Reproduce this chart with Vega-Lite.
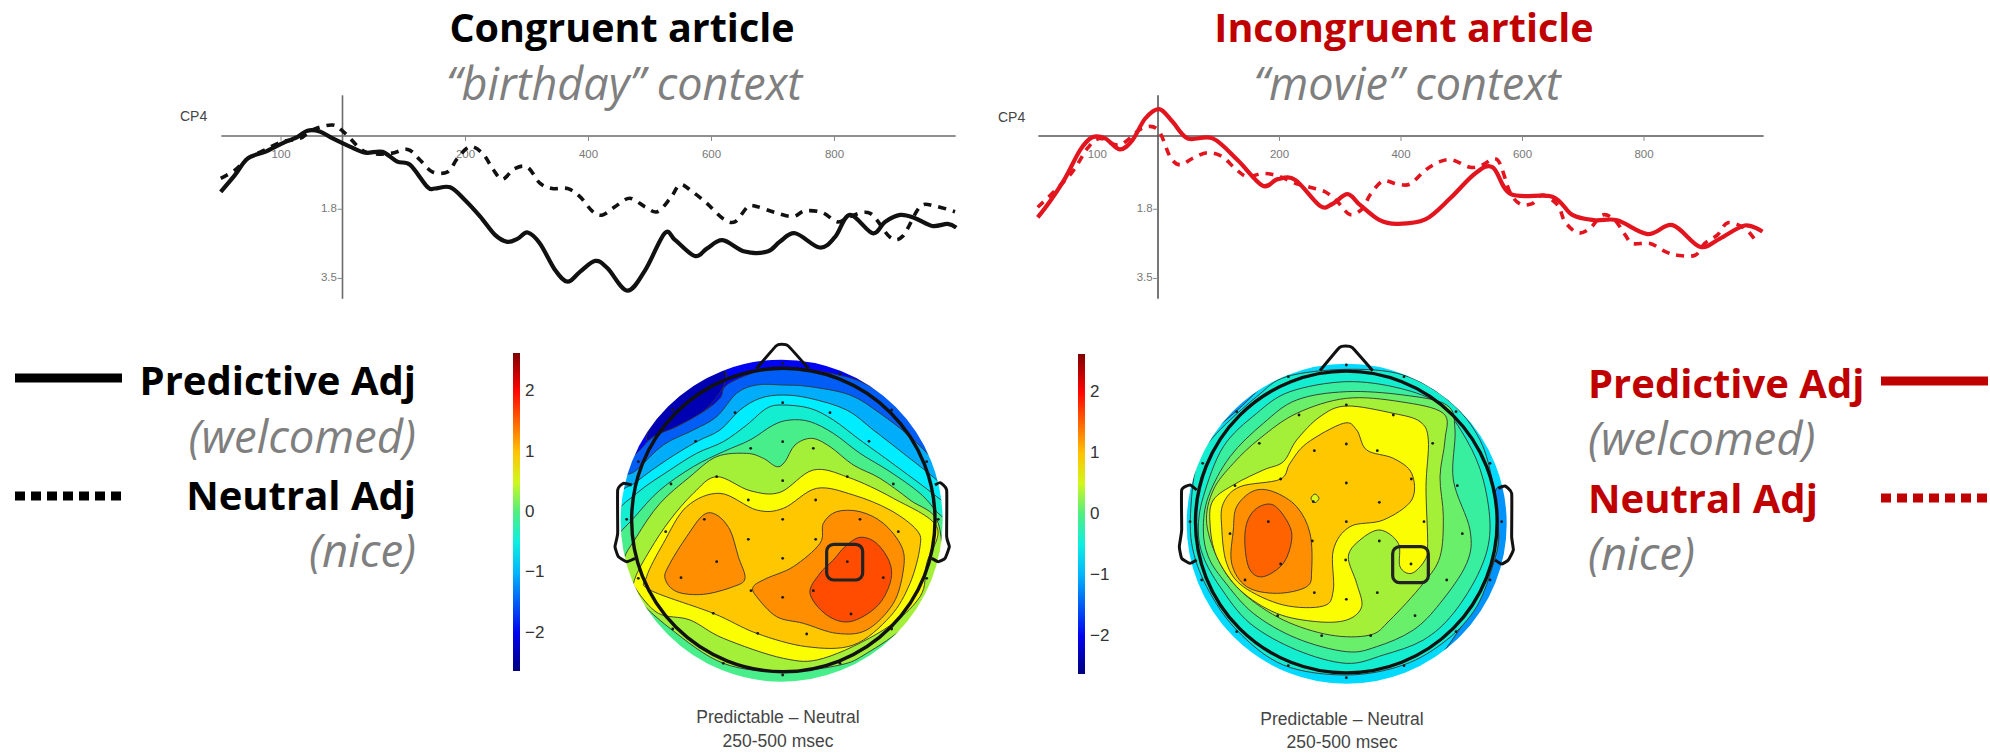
{"$schema":"https://vega.github.io/schema/vega-lite/v6.json","width":1990,"height":754,"autosize":{"type":"fit","contains":"padding"},"padding":0,"background":"white","config":{"view":{"stroke":null}},
"datasets":{
"erpL":[
{"s":"P","t":-198,"v":1.37},{"s":"P","t":-175,"v":0.96},{"s":"P","t":-154,"v":0.55},{"s":"P","t":-126,"v":0.39},{"s":"P","t":-98,"v":0.18},{"s":"P","t":-73,"v":0.02},{"s":"P","t":-57,"v":-0.13},{"s":"P","t":-37,"v":-0.11},{"s":"P","t":-16,"v":0.06},{"s":"P","t":12,"v":0.26},{"s":"P","t":37,"v":0.41},{"s":"P","t":65,"v":0.39},{"s":"P","t":89,"v":0.63},{"s":"P","t":110,"v":0.71},{"s":"P","t":138,"v":1.25},{"s":"P","t":150,"v":1.29},{"s":"P","t":175,"v":1.26},{"s":"P","t":199,"v":1.57},{"s":"P","t":224,"v":1.98},{"s":"P","t":248,"v":2.43},{"s":"P","t":268,"v":2.6},{"s":"P","t":285,"v":2.52},{"s":"P","t":301,"v":2.37},{"s":"P","t":321,"v":2.64},{"s":"P","t":346,"v":3.3},{"s":"P","t":366,"v":3.58},{"s":"P","t":386,"v":3.34},{"s":"P","t":411,"v":3.07},{"s":"P","t":431,"v":3.25},{"s":"P","t":463,"v":3.8},{"s":"P","t":492,"v":3.3},{"s":"P","t":524,"v":2.39},{"s":"P","t":541,"v":2.56},{"s":"P","t":573,"v":2.95},{"s":"P","t":593,"v":2.76},{"s":"P","t":618,"v":2.56},{"s":"P","t":654,"v":2.84},{"s":"P","t":691,"v":2.84},{"s":"P","t":711,"v":2.6},{"s":"P","t":736,"v":2.39},{"s":"P","t":776,"v":2.74},{"s":"P","t":801,"v":2.48},{"s":"P","t":825,"v":1.94},{"s":"P","t":862,"v":2.39},{"s":"P","t":882,"v":2.11},{"s":"P","t":907,"v":1.94},{"s":"P","t":931,"v":2.02},{"s":"P","t":959,"v":2.21},{"s":"P","t":984,"v":2.16},{"s":"P","t":998,"v":2.25},
{"s":"N","t":-198,"v":1.04},{"s":"N","t":-175,"v":0.84},{"s":"N","t":-154,"v":0.55},{"s":"N","t":-126,"v":0.34},{"s":"N","t":-98,"v":0.14},{"s":"N","t":-69,"v":0.06},{"s":"N","t":-49,"v":-0.15},{"s":"N","t":-16,"v":-0.27},{"s":"N","t":4,"v":-0.07},{"s":"N","t":37,"v":0.39},{"s":"N","t":77,"v":0.43},{"s":"N","t":106,"v":0.33},{"s":"N","t":126,"v":0.59},{"s":"N","t":146,"v":0.88},{"s":"N","t":171,"v":0.88},{"s":"N","t":187,"v":0.55},{"s":"N","t":207,"v":0.26},{"s":"N","t":228,"v":0.43},{"s":"N","t":244,"v":0.8},{"s":"N","t":260,"v":1.06},{"s":"N","t":280,"v":0.8},{"s":"N","t":301,"v":0.77},{"s":"N","t":321,"v":1.16},{"s":"N","t":341,"v":1.29},{"s":"N","t":366,"v":1.29},{"s":"N","t":386,"v":1.49},{"s":"N","t":407,"v":1.86},{"s":"N","t":423,"v":1.94},{"s":"N","t":443,"v":1.74},{"s":"N","t":467,"v":1.53},{"s":"N","t":492,"v":1.74},{"s":"N","t":512,"v":1.86},{"s":"N","t":533,"v":1.53},{"s":"N","t":549,"v":1.2},{"s":"N","t":569,"v":1.37},{"s":"N","t":593,"v":1.66},{"s":"N","t":618,"v":2.02},{"s":"N","t":638,"v":2.11},{"s":"N","t":659,"v":1.74},{"s":"N","t":675,"v":1.74},{"s":"N","t":703,"v":1.88},{"s":"N","t":732,"v":1.98},{"s":"N","t":752,"v":1.84},{"s":"N","t":780,"v":1.88},{"s":"N","t":805,"v":2.11},{"s":"N","t":825,"v":1.98},{"s":"N","t":858,"v":1.9},{"s":"N","t":890,"v":2.48},{"s":"N","t":911,"v":2.46},{"s":"N","t":939,"v":1.74},{"s":"N","t":963,"v":1.72},{"s":"N","t":996,"v":1.86}],
"erpR":[
{"s":"P","t":-198,"v":2.0},{"s":"P","t":-178,"v":1.61},{"s":"P","t":-153,"v":1.04},{"s":"P","t":-128,"v":0.34},{"s":"P","t":-108,"v":0.03},{"s":"P","t":-87,"v":0.06},{"s":"P","t":-63,"v":0.33},{"s":"P","t":-42,"v":0.1},{"s":"P","t":-21,"v":-0.43},{"s":"P","t":2,"v":-0.66},{"s":"P","t":24,"v":-0.35},{"s":"P","t":49,"v":0.06},{"s":"P","t":90,"v":0.06},{"s":"P","t":131,"v":0.59},{"s":"P","t":172,"v":1.22},{"s":"P","t":197,"v":1.06},{"s":"P","t":226,"v":1.08},{"s":"P","t":267,"v":1.72},{"s":"P","t":287,"v":1.67},{"s":"P","t":312,"v":1.43},{"s":"P","t":333,"v":1.7},{"s":"P","t":365,"v":2.07},{"s":"P","t":394,"v":2.16},{"s":"P","t":440,"v":2.05},{"s":"P","t":481,"v":1.53},{"s":"P","t":522,"v":0.92},{"s":"P","t":551,"v":0.77},{"s":"P","t":581,"v":1.43},{"s":"P","t":649,"v":1.49},{"s":"P","t":682,"v":1.94},{"s":"P","t":719,"v":2.07},{"s":"P","t":756,"v":2.07},{"s":"P","t":806,"v":2.41},{"s":"P","t":847,"v":2.19},{"s":"P","t":892,"v":2.72},{"s":"P","t":925,"v":2.52},{"s":"P","t":966,"v":2.2},{"s":"P","t":995,"v":2.35},
{"s":"N","t":-198,"v":1.75},{"s":"N","t":-145,"v":0.96},{"s":"N","t":-116,"v":0.3},{"s":"N","t":-95,"v":0.06},{"s":"N","t":-63,"v":0.22},{"s":"N","t":-26,"v":-0.19},{"s":"N","t":0,"v":-0.15},{"s":"N","t":20,"v":0.51},{"s":"N","t":36,"v":0.71},{"s":"N","t":57,"v":0.55},{"s":"N","t":81,"v":0.41},{"s":"N","t":106,"v":0.51},{"s":"N","t":127,"v":0.8},{"s":"N","t":147,"v":1.0},{"s":"N","t":172,"v":0.92},{"s":"N","t":197,"v":0.98},{"s":"N","t":226,"v":1.16},{"s":"N","t":250,"v":1.26},{"s":"N","t":275,"v":1.37},{"s":"N","t":295,"v":1.61},{"s":"N","t":316,"v":1.93},{"s":"N","t":337,"v":1.78},{"s":"N","t":349,"v":1.45},{"s":"N","t":370,"v":1.11},{"s":"N","t":394,"v":1.18},{"s":"N","t":415,"v":1.18},{"s":"N","t":440,"v":0.84},{"s":"N","t":464,"v":0.63},{"s":"N","t":485,"v":0.59},{"s":"N","t":514,"v":0.77},{"s":"N","t":534,"v":0.71},{"s":"N","t":559,"v":0.59},{"s":"N","t":579,"v":1.37},{"s":"N","t":596,"v":1.67},{"s":"N","t":616,"v":1.66},{"s":"N","t":633,"v":1.45},{"s":"N","t":658,"v":1.7},{"s":"N","t":670,"v":2.11},{"s":"N","t":691,"v":2.38},{"s":"N","t":711,"v":2.27},{"s":"N","t":732,"v":1.94},{"s":"N","t":752,"v":2.07},{"s":"N","t":769,"v":2.43},{"s":"N","t":781,"v":2.64},{"s":"N","t":810,"v":2.64},{"s":"N","t":835,"v":2.84},{"s":"N","t":855,"v":2.93},{"s":"N","t":884,"v":2.93},{"s":"N","t":900,"v":2.64},{"s":"N","t":921,"v":2.43},{"s":"N","t":938,"v":2.13},{"s":"N","t":966,"v":2.27},{"s":"N","t":983,"v":2.56}],
"ticks":[{"t":-100,"v":0.47,"label":"100"},{"t":200,"v":0.47,"label":"200"},{"t":400,"v":0.47,"label":"400"},{"t":600,"v":0.47,"label":"600"},{"t":800,"v":0.47,"label":"800"},{"t":-22,"v":1.8,"label":"1.8"},{"t":-22,"v":3.5,"label":"3.5"}],
"tickMarks":[{"t":-100,"v":0,"t2":-100,"v2":0.12},{"t":200,"v":0,"t2":200,"v2":0.12},{"t":400,"v":0,"t2":400,"v2":0.12},{"t":600,"v":0,"t2":600,"v2":0.12},{"t":800,"v":0,"t2":800,"v2":0.12},{"t":-8,"v":1.8,"t2":0,"v2":1.8},{"t":-8,"v":3.5,"t2":0,"v2":3.5}],
"contL":[
{"id":"a","v":-2.0,"x":875,"y":42},{"id":"a","v":-2.0,"x":1250,"y":197},{"id":"a","v":-2.0,"x":1405,"y":572},{"id":"a","v":-2.0,"x":1250,"y":947},{"id":"a","v":-2.0,"x":875,"y":1102},{"id":"a","v":-2.0,"x":500,"y":947},{"id":"a","v":-2.0,"x":345,"y":572},{"id":"a","v":-2.0,"x":500,"y":197},
{"id":"b","v":-2.35,"x":470,"y":330},{"id":"b","v":-2.35,"x":510,"y":245},{"id":"b","v":-2.35,"x":610,"y":150},{"id":"b","v":-2.35,"x":700,"y":120},{"id":"b","v":-2.35,"x":700,"y":170},{"id":"b","v":-2.35,"x":640,"y":245},{"id":"b","v":-2.35,"x":560,"y":290},
{"id":"c","v":-1.5,"x":380,"y":420},{"id":"c","v":-1.5,"x":440,"y":370},{"id":"c","v":-1.5,"x":490,"y":320},{"id":"c","v":-1.5,"x":560,"y":290},{"id":"c","v":-1.5,"x":640,"y":245},{"id":"c","v":-1.5,"x":690,"y":205},{"id":"c","v":-1.5,"x":710,"y":165},{"id":"c","v":-1.5,"x":800,"y":125},{"id":"c","v":-1.5,"x":878,"y":115},{"id":"c","v":-1.5,"x":960,"y":120},{"id":"c","v":-1.5,"x":1100,"y":150},{"id":"c","v":-1.5,"x":1200,"y":210},{"id":"c","v":-1.5,"x":1280,"y":290},{"id":"c","v":-1.5,"x":1340,"y":360},{"id":"c","v":-1.5,"x":1400,"y":420},{"id":"c","v":-1.5,"x":1400,"y":760},{"id":"c","v":-1.5,"x":1257,"y":954},{"id":"c","v":-1.5,"x":875,"y":1112},{"id":"c","v":-1.5,"x":493,"y":954},{"id":"c","v":-1.5,"x":350,"y":760},
{"id":"d","v":-1.05,"x":370,"y":480},{"id":"d","v":-1.05,"x":440,"y":420},{"id":"d","v":-1.05,"x":520,"y":345},{"id":"d","v":-1.05,"x":610,"y":300},{"id":"d","v":-1.05,"x":680,"y":260},{"id":"d","v":-1.05,"x":740,"y":190},{"id":"d","v":-1.05,"x":800,"y":165},{"id":"d","v":-1.05,"x":878,"y":165},{"id":"d","v":-1.05,"x":960,"y":170},{"id":"d","v":-1.05,"x":1080,"y":195},{"id":"d","v":-1.05,"x":1170,"y":250},{"id":"d","v":-1.05,"x":1260,"y":320},{"id":"d","v":-1.05,"x":1340,"y":400},{"id":"d","v":-1.05,"x":1400,"y":470},{"id":"d","v":-1.05,"x":1400,"y":760},{"id":"d","v":-1.05,"x":1257,"y":954},{"id":"d","v":-1.05,"x":875,"y":1112},{"id":"d","v":-1.05,"x":493,"y":954},{"id":"d","v":-1.05,"x":350,"y":760},
{"id":"e","v":-0.7,"x":370,"y":520},{"id":"e","v":-0.7,"x":440,"y":455},{"id":"e","v":-0.7,"x":530,"y":390},{"id":"e","v":-0.7,"x":620,"y":335},{"id":"e","v":-0.7,"x":690,"y":300},{"id":"e","v":-0.7,"x":750,"y":240},{"id":"e","v":-0.7,"x":810,"y":205},{"id":"e","v":-0.7,"x":878,"y":195},{"id":"e","v":-0.7,"x":960,"y":205},{"id":"e","v":-0.7,"x":1070,"y":240},{"id":"e","v":-0.7,"x":1150,"y":300},{"id":"e","v":-0.7,"x":1240,"y":370},{"id":"e","v":-0.7,"x":1340,"y":450},{"id":"e","v":-0.7,"x":1400,"y":510},{"id":"e","v":-0.7,"x":1400,"y":760},{"id":"e","v":-0.7,"x":1257,"y":954},{"id":"e","v":-0.7,"x":875,"y":1112},{"id":"e","v":-0.7,"x":493,"y":954},{"id":"e","v":-0.7,"x":350,"y":760},
{"id":"f","v":-0.4,"x":370,"y":570},{"id":"f","v":-0.4,"x":440,"y":490},{"id":"f","v":-0.4,"x":540,"y":420},{"id":"f","v":-0.4,"x":620,"y":370},{"id":"f","v":-0.4,"x":700,"y":335},{"id":"f","v":-0.4,"x":770,"y":285},{"id":"f","v":-0.4,"x":830,"y":235},{"id":"f","v":-0.4,"x":878,"y":225},{"id":"f","v":-0.4,"x":960,"y":235},{"id":"f","v":-0.4,"x":1030,"y":270},{"id":"f","v":-0.4,"x":1110,"y":330},{"id":"f","v":-0.4,"x":1200,"y":395},{"id":"f","v":-0.4,"x":1340,"y":500},{"id":"f","v":-0.4,"x":1400,"y":560},{"id":"f","v":-0.4,"x":1400,"y":760},{"id":"f","v":-0.4,"x":1257,"y":954},{"id":"f","v":-0.4,"x":875,"y":1112},{"id":"f","v":-0.4,"x":493,"y":954},{"id":"f","v":-0.4,"x":350,"y":760},
{"id":"g","v":-0.05,"x":370,"y":640},{"id":"g","v":-0.05,"x":435,"y":560},{"id":"g","v":-0.05,"x":510,"y":480},{"id":"g","v":-0.05,"x":610,"y":410},{"id":"g","v":-0.05,"x":700,"y":365},{"id":"g","v":-0.05,"x":780,"y":330},{"id":"g","v":-0.05,"x":850,"y":285},{"id":"g","v":-0.05,"x":900,"y":270},{"id":"g","v":-0.05,"x":960,"y":275},{"id":"g","v":-0.05,"x":1030,"y":310},{"id":"g","v":-0.05,"x":1110,"y":370},{"id":"g","v":-0.05,"x":1200,"y":425},{"id":"g","v":-0.05,"x":1290,"y":490},{"id":"g","v":-0.05,"x":1340,"y":545},{"id":"g","v":-0.05,"x":1395,"y":610},{"id":"g","v":-0.05,"x":1400,"y":760},{"id":"g","v":-0.05,"x":1257,"y":954},{"id":"g","v":-0.05,"x":875,"y":1112},{"id":"g","v":-0.05,"x":493,"y":954},{"id":"g","v":-0.05,"x":350,"y":760},
{"id":"h","v":0.33,"x":400,"y":700},{"id":"h","v":0.33,"x":440,"y":620},{"id":"h","v":0.33,"x":510,"y":520},{"id":"h","v":0.33,"x":600,"y":440},{"id":"h","v":0.33,"x":680,"y":380},{"id":"h","v":0.33,"x":770,"y":370},{"id":"h","v":0.33,"x":820,"y":385},{"id":"h","v":0.33,"x":860,"y":410},{"id":"h","v":0.33,"x":885,"y":395},{"id":"h","v":0.33,"x":915,"y":345},{"id":"h","v":0.33,"x":965,"y":325},{"id":"h","v":0.33,"x":1020,"y":350},{"id":"h","v":0.33,"x":1090,"y":405},{"id":"h","v":0.33,"x":1170,"y":445},{"id":"h","v":0.33,"x":1260,"y":510},{"id":"h","v":0.33,"x":1345,"y":580},{"id":"h","v":0.33,"x":1345,"y":770},{"id":"h","v":0.33,"x":1250,"y":885},{"id":"h","v":0.33,"x":1130,"y":970},{"id":"h","v":0.33,"x":1050,"y":1005},{"id":"h","v":0.33,"x":880,"y":1025},{"id":"h","v":0.33,"x":700,"y":1000},{"id":"h","v":0.33,"x":540,"y":895},{"id":"h","v":0.33,"x":430,"y":790},
{"id":"i","v":0.66,"x":435,"y":745},{"id":"i","v":0.66,"x":480,"y":660},{"id":"i","v":0.66,"x":540,"y":570},{"id":"i","v":0.66,"x":610,"y":490},{"id":"i","v":0.66,"x":680,"y":440},{"id":"i","v":0.66,"x":780,"y":482},{"id":"i","v":0.66,"x":870,"y":487},{"id":"i","v":0.66,"x":970,"y":420},{"id":"i","v":0.66,"x":1075,"y":442},{"id":"i","v":0.66,"x":1210,"y":505},{"id":"i","v":0.66,"x":1340,"y":590},{"id":"i","v":0.66,"x":1310,"y":700},{"id":"i","v":0.66,"x":1290,"y":800},{"id":"i","v":0.66,"x":1180,"y":900},{"id":"i","v":0.66,"x":1000,"y":985},{"id":"i","v":0.66,"x":880,"y":985},{"id":"i","v":0.66,"x":700,"y":925},{"id":"i","v":0.66,"x":600,"y":870},{"id":"i","v":0.66,"x":505,"y":850},{"id":"i","v":0.66,"x":440,"y":780},
{"id":"j","v":0.97,"x":470,"y":740},{"id":"j","v":0.97,"x":520,"y":640},{"id":"j","v":0.97,"x":590,"y":530},{"id":"j","v":0.97,"x":690,"y":490},{"id":"j","v":0.97,"x":800,"y":540},{"id":"j","v":0.97,"x":880,"y":535},{"id":"j","v":0.97,"x":980,"y":475},{"id":"j","v":0.97,"x":1090,"y":495},{"id":"j","v":0.97,"x":1200,"y":540},{"id":"j","v":0.97,"x":1280,"y":600},{"id":"j","v":0.97,"x":1290,"y":650},{"id":"j","v":0.97,"x":1260,"y":760},{"id":"j","v":0.97,"x":1200,"y":860},{"id":"j","v":0.97,"x":1090,"y":945},{"id":"j","v":0.97,"x":950,"y":950},{"id":"j","v":0.97,"x":800,"y":910},{"id":"j","v":0.97,"x":670,"y":850},{"id":"j","v":0.97,"x":480,"y":780},
{"id":"k","v":1.27,"x":640,"y":555},{"id":"k","v":1.27,"x":680,"y":555},{"id":"k","v":1.27,"x":720,"y":600},{"id":"k","v":1.27,"x":745,"y":680},{"id":"k","v":1.27,"x":765,"y":745},{"id":"k","v":1.27,"x":730,"y":770},{"id":"k","v":1.27,"x":640,"y":793},{"id":"k","v":1.27,"x":560,"y":785},{"id":"k","v":1.27,"x":525,"y":745},{"id":"k","v":1.27,"x":540,"y":700},{"id":"k","v":1.27,"x":590,"y":620},
{"id":"l","v":1.27,"x":1000,"y":580},{"id":"l","v":1.27,"x":1040,"y":545},{"id":"l","v":1.27,"x":1110,"y":545},{"id":"l","v":1.27,"x":1180,"y":580},{"id":"l","v":1.27,"x":1235,"y":650},{"id":"l","v":1.27,"x":1240,"y":720},{"id":"l","v":1.27,"x":1210,"y":820},{"id":"l","v":1.27,"x":1130,"y":900},{"id":"l","v":1.27,"x":1040,"y":910},{"id":"l","v":1.27,"x":940,"y":880},{"id":"l","v":1.27,"x":860,"y":860},{"id":"l","v":1.27,"x":800,"y":800},{"id":"l","v":1.27,"x":790,"y":770},{"id":"l","v":1.27,"x":830,"y":745},{"id":"l","v":1.27,"x":910,"y":710},{"id":"l","v":1.27,"x":990,"y":640},
{"id":"m","v":1.62,"x":1065,"y":650},{"id":"m","v":1.62,"x":1110,"y":622},{"id":"m","v":1.62,"x":1160,"y":640},{"id":"m","v":1.62,"x":1200,"y":700},{"id":"m","v":1.62,"x":1200,"y":760},{"id":"m","v":1.62,"x":1160,"y":830},{"id":"m","v":1.62,"x":1080,"y":875},{"id":"m","v":1.62,"x":1010,"y":855},{"id":"m","v":1.62,"x":960,"y":790},{"id":"m","v":1.62,"x":990,"y":730},{"id":"m","v":1.62,"x":1030,"y":690}],
"contR":[
{"id":"a","v":-0.8,"x":890,"y":51},{"id":"a","v":-0.8,"x":1265,"y":206},{"id":"a","v":-0.8,"x":1420,"y":581},{"id":"a","v":-0.8,"x":1265,"y":956},{"id":"a","v":-0.8,"x":890,"y":1111},{"id":"a","v":-0.8,"x":515,"y":956},{"id":"a","v":-0.8,"x":360,"y":581},{"id":"a","v":-0.8,"x":515,"y":206},
{"id":"b","v":-1.15,"x":470,"y":310},{"id":"b","v":-1.15,"x":530,"y":235},{"id":"b","v":-1.15,"x":620,"y":165},{"id":"b","v":-1.15,"x":650,"y":150},{"id":"b","v":-1.15,"x":610,"y":195},{"id":"b","v":-1.15,"x":540,"y":260},
{"id":"c","v":-1.2,"x":1345,"y":470},{"id":"c","v":-1.2,"x":1420,"y":500},{"id":"c","v":-1.2,"x":1420,"y":700},{"id":"c","v":-1.2,"x":1340,"y":850},{"id":"c","v":-1.2,"x":1220,"y":970},{"id":"c","v":-1.2,"x":1120,"y":1050},{"id":"c","v":-1.2,"x":1210,"y":925},{"id":"c","v":-1.2,"x":1295,"y":790},{"id":"c","v":-1.2,"x":1345,"y":640},{"id":"c","v":-1.2,"x":1335,"y":540},
{"id":"d","v":-0.4,"x":425,"y":500},{"id":"d","v":-0.4,"x":445,"y":390},{"id":"d","v":-0.4,"x":500,"y":310},{"id":"d","v":-0.4,"x":620,"y":200},{"id":"d","v":-0.4,"x":710,"y":140},{"id":"d","v":-0.4,"x":889,"y":118},{"id":"d","v":-0.4,"x":1060,"y":135},{"id":"d","v":-0.4,"x":1200,"y":215},{"id":"d","v":-0.4,"x":1290,"y":330},{"id":"d","v":-0.4,"x":1330,"y":470},{"id":"d","v":-0.4,"x":1345,"y":620},{"id":"d","v":-0.4,"x":1330,"y":700},{"id":"d","v":-0.4,"x":1280,"y":830},{"id":"d","v":-0.4,"x":1190,"y":930},{"id":"d","v":-0.4,"x":1060,"y":1005},{"id":"d","v":-0.4,"x":889,"y":1035},{"id":"d","v":-0.4,"x":700,"y":1005},{"id":"d","v":-0.4,"x":560,"y":900},{"id":"d","v":-0.4,"x":470,"y":770},{"id":"d","v":-0.4,"x":425,"y":640},
{"id":"e","v":-0.15,"x":445,"y":600},{"id":"e","v":-0.15,"x":460,"y":500},{"id":"e","v":-0.15,"x":520,"y":350},{"id":"e","v":-0.15,"x":620,"y":250},{"id":"e","v":-0.15,"x":720,"y":185},{"id":"e","v":-0.15,"x":889,"y":155},{"id":"e","v":-0.15,"x":1050,"y":175},{"id":"e","v":-0.15,"x":1170,"y":225},{"id":"e","v":-0.15,"x":1250,"y":330},{"id":"e","v":-0.15,"x":1300,"y":450},{"id":"e","v":-0.15,"x":1320,"y":600},{"id":"e","v":-0.15,"x":1290,"y":720},{"id":"e","v":-0.15,"x":1210,"y":850},{"id":"e","v":-0.15,"x":1120,"y":930},{"id":"e","v":-0.15,"x":1000,"y":975},{"id":"e","v":-0.15,"x":889,"y":1000},{"id":"e","v":-0.15,"x":740,"y":960},{"id":"e","v":-0.15,"x":600,"y":880},{"id":"e","v":-0.15,"x":510,"y":770},{"id":"e","v":-0.15,"x":460,"y":680},
{"id":"f","v":0.1,"x":460,"y":600},{"id":"f","v":0.1,"x":475,"y":500},{"id":"f","v":0.1,"x":540,"y":380},{"id":"f","v":0.1,"x":640,"y":280},{"id":"f","v":0.1,"x":740,"y":210},{"id":"f","v":0.1,"x":889,"y":185},{"id":"f","v":0.1,"x":1060,"y":195},{"id":"f","v":0.1,"x":1190,"y":225},{"id":"f","v":0.1,"x":1215,"y":300},{"id":"f","v":0.1,"x":1210,"y":450},{"id":"f","v":0.1,"x":1260,"y":600},{"id":"f","v":0.1,"x":1250,"y":700},{"id":"f","v":0.1,"x":1170,"y":820},{"id":"f","v":0.1,"x":1090,"y":900},{"id":"f","v":0.1,"x":980,"y":950},{"id":"f","v":0.1,"x":889,"y":965},{"id":"f","v":0.1,"x":740,"y":925},{"id":"f","v":0.1,"x":610,"y":850},{"id":"f","v":0.1,"x":520,"y":750},{"id":"f","v":0.1,"x":475,"y":680},
{"id":"g","v":0.33,"x":470,"y":580},{"id":"g","v":0.33,"x":490,"y":480},{"id":"g","v":0.33,"x":550,"y":400},{"id":"g","v":0.33,"x":630,"y":325},{"id":"g","v":0.33,"x":740,"y":250},{"id":"g","v":0.33,"x":889,"y":205},{"id":"g","v":0.33,"x":1050,"y":215},{"id":"g","v":0.33,"x":1180,"y":250},{"id":"g","v":0.33,"x":1185,"y":330},{"id":"g","v":0.33,"x":1170,"y":440},{"id":"g","v":0.33,"x":1180,"y":560},{"id":"g","v":0.33,"x":1170,"y":680},{"id":"g","v":0.33,"x":1120,"y":760},{"id":"g","v":0.33,"x":1020,"y":870},{"id":"g","v":0.33,"x":960,"y":915},{"id":"g","v":0.33,"x":840,"y":915},{"id":"g","v":0.33,"x":700,"y":870},{"id":"g","v":0.33,"x":580,"y":790},{"id":"g","v":0.33,"x":510,"y":700},
{"id":"h","v":0.66,"x":480,"y":580},{"id":"h","v":0.66,"x":490,"y":510},{"id":"h","v":0.66,"x":555,"y":462},{"id":"h","v":0.66,"x":640,"y":420},{"id":"h","v":0.66,"x":700,"y":395},{"id":"h","v":0.66,"x":740,"y":330},{"id":"h","v":0.66,"x":810,"y":260},{"id":"h","v":0.66,"x":889,"y":228},{"id":"h","v":0.66,"x":1030,"y":250},{"id":"h","v":0.66,"x":1110,"y":275},{"id":"h","v":0.66,"x":1135,"y":330},{"id":"h","v":0.66,"x":1128,"y":470},{"id":"h","v":0.66,"x":1133,"y":640},{"id":"h","v":0.66,"x":1125,"y":690},{"id":"h","v":0.66,"x":1085,"y":730},{"id":"h","v":0.66,"x":1050,"y":710},{"id":"h","v":0.66,"x":1045,"y":640},{"id":"h","v":0.66,"x":990,"y":600},{"id":"h","v":0.66,"x":930,"y":630},{"id":"h","v":0.66,"x":895,"y":680},{"id":"h","v":0.66,"x":920,"y":760},{"id":"h","v":0.66,"x":935,"y":830},{"id":"h","v":0.66,"x":890,"y":870},{"id":"h","v":0.66,"x":800,"y":875},{"id":"h","v":0.66,"x":680,"y":850},{"id":"h","v":0.66,"x":570,"y":780},{"id":"h","v":0.66,"x":500,"y":680},
{"id":"i","v":0.97,"x":515,"y":590},{"id":"i","v":0.97,"x":520,"y":520},{"id":"i","v":0.97,"x":570,"y":470},{"id":"i","v":0.97,"x":690,"y":448},{"id":"i","v":0.97,"x":720,"y":400},{"id":"i","v":0.97,"x":770,"y":340},{"id":"i","v":0.97,"x":880,"y":280},{"id":"i","v":0.97,"x":920,"y":300},{"id":"i","v":0.97,"x":950,"y":360},{"id":"i","v":0.97,"x":1030,"y":385},{"id":"i","v":0.97,"x":1085,"y":430},{"id":"i","v":0.97,"x":1085,"y":510},{"id":"i","v":0.97,"x":1000,"y":570},{"id":"i","v":0.97,"x":900,"y":590},{"id":"i","v":0.97,"x":850,"y":660},{"id":"i","v":0.97,"x":850,"y":780},{"id":"i","v":0.97,"x":820,"y":828},{"id":"i","v":0.97,"x":700,"y":825},{"id":"i","v":0.97,"x":580,"y":770},{"id":"i","v":0.97,"x":530,"y":700},
{"id":"j","v":0.55,"x":795,"y":492},{"id":"j","v":0.55,"x":807,"y":505},{"id":"j","v":0.55,"x":795,"y":518},{"id":"j","v":0.55,"x":783,"y":505},
{"id":"k","v":1.27,"x":550,"y":600},{"id":"k","v":1.27,"x":560,"y":530},{"id":"k","v":1.27,"x":610,"y":483},{"id":"k","v":1.27,"x":670,"y":485},{"id":"k","v":1.27,"x":740,"y":530},{"id":"k","v":1.27,"x":780,"y":610},{"id":"k","v":1.27,"x":785,"y":720},{"id":"k","v":1.27,"x":770,"y":770},{"id":"k","v":1.27,"x":680,"y":790},{"id":"k","v":1.27,"x":590,"y":770},{"id":"k","v":1.27,"x":545,"y":700},
{"id":"l","v":1.5,"x":590,"y":580},{"id":"l","v":1.5,"x":620,"y":535},{"id":"l","v":1.5,"x":670,"y":525},{"id":"l","v":1.5,"x":715,"y":580},{"id":"l","v":1.5,"x":725,"y":630},{"id":"l","v":1.5,"x":700,"y":700},{"id":"l","v":1.5,"x":640,"y":740},{"id":"l","v":1.5,"x":600,"y":720},{"id":"l","v":1.5,"x":585,"y":650}],
"elecL":[{"x":878,"y":100},{"x":705,"y":132},{"x":1050,"y":132},{"x":548,"y":240},{"x":1205,"y":240},{"x":878,"y":218},{"x":735,"y":248},{"x":1020,"y":248},{"x":617,"y":334},{"x":1137,"y":334},{"x":878,"y":335},{"x":782,"y":355},{"x":970,"y":355},{"x":445,"y":395},{"x":1310,"y":395},{"x":680,"y":440},{"x":1072,"y":440},{"x":878,"y":452},{"x":543,"y":462},{"x":1210,"y":462},{"x":775,"y":510},{"x":977,"y":510},{"x":410,"y":568},{"x":1345,"y":568},{"x":643,"y":568},{"x":878,"y":568},{"x":1110,"y":568},{"x":527,"y":605},{"x":1225,"y":605},{"x":775,"y":628},{"x":977,"y":628},{"x":680,"y":695},{"x":878,"y":685},{"x":1072,"y":695},{"x":573,"y":743},{"x":1180,"y":743},{"x":445,"y":745},{"x":1310,"y":745},{"x":783,"y":782},{"x":970,"y":782},{"x":878,"y":802},{"x":670,"y":850},{"x":1083,"y":852},{"x":548,"y":897},{"x":1205,"y":897},{"x":803,"y":910},{"x":950,"y":912},{"x":700,"y":1000},{"x":1050,"y":1000},{"x":878,"y":1035}],
"elecR":[{"x":889,"y":105},{"x":715,"y":140},{"x":1062,"y":140},{"x":560,"y":245},{"x":1218,"y":245},{"x":889,"y":225},{"x":747,"y":255},{"x":1030,"y":255},{"x":628,"y":340},{"x":1148,"y":340},{"x":889,"y":342},{"x":793,"y":362},{"x":982,"y":362},{"x":458,"y":400},{"x":1320,"y":400},{"x":692,"y":447},{"x":1084,"y":447},{"x":889,"y":459},{"x":555,"y":467},{"x":1222,"y":467},{"x":790,"y":515},{"x":988,"y":517},{"x":420,"y":575},{"x":1355,"y":575},{"x":655,"y":575},{"x":889,"y":575},{"x":1122,"y":575},{"x":540,"y":611},{"x":1237,"y":611},{"x":787,"y":633},{"x":988,"y":633},{"x":692,"y":702},{"x":887,"y":690},{"x":1083,"y":702},{"x":585,"y":750},{"x":1190,"y":750},{"x":455,"y":750},{"x":1320,"y":750},{"x":793,"y":788},{"x":982,"y":788},{"x":889,"y":808},{"x":683,"y":857},{"x":1095,"y":857},{"x":560,"y":905},{"x":1218,"y":905},{"x":815,"y":917},{"x":962,"y":917},{"x":715,"y":1007},{"x":1062,"y":1007},{"x":889,"y":1043}],
"outL":[{"id":"nose","x":800,"y":115},{"id":"nose","x":858,"y":48},{"id":"nose","x":875,"y":43},{"id":"nose","x":895,"y":48},{"id":"nose","x":955,"y":115},{"id":"earL","x":425,"y":465},{"id":"earL","x":400,"y":460},{"id":"earL","x":383,"y":480},{"id":"earL","x":383,"y":610},{"id":"earL","x":375,"y":650},{"id":"earL","x":385,"y":680},{"id":"earL","x":410,"y":695},{"id":"earL","x":435,"y":685},{"id":"earR","x":1335,"y":465},{"id":"earR","x":1350,"y":458},{"id":"earR","x":1370,"y":480},{"id":"earR","x":1370,"y":620},{"id":"earR","x":1378,"y":650},{"id":"earR","x":1365,"y":685},{"id":"earR","x":1345,"y":695},{"id":"earR","x":1325,"y":685}],
"outR":[{"id":"nose","x":810,"y":122},{"id":"nose","x":868,"y":53},{"id":"nose","x":887,"y":48},{"id":"nose","x":907,"y":53},{"id":"nose","x":968,"y":122},{"id":"earL","x":440,"y":480},{"id":"earL","x":420,"y":465},{"id":"earL","x":395,"y":480},{"id":"earL","x":395,"y":600},{"id":"earL","x":388,"y":650},{"id":"earL","x":395,"y":685},{"id":"earL","x":420,"y":700},{"id":"earL","x":440,"y":690},{"id":"earR","x":1345,"y":475},{"id":"earR","x":1365,"y":468},{"id":"earR","x":1385,"y":490},{"id":"earR","x":1385,"y":620},{"id":"earR","x":1390,"y":660},{"id":"earR","x":1375,"y":690},{"id":"earR","x":1355,"y":702},{"id":"earR","x":1335,"y":690}]
},
"layer":[
{"encoding":{"x":{"field":"t","type":"quantitative","axis":null,"scale":{"domain":[-200,1000],"range":[219.5,957.5],"nice":false}},"y":{"field":"v","type":"quantitative","axis":null,"scale":{"domain":[-1,4],"range":[95.3,298.8],"nice":false}}},
"layer":[
{"data":{"values":[{"t":-197,"v":0,"t2":997,"v2":0},{"t":0,"v":-1,"t2":0,"v2":4}]},"mark":{"type":"rule","color":"#6a6a6a","strokeWidth":1.6},"encoding":{"x2":{"field":"t2"},"y2":{"field":"v2"}}},
{"data":{"name":"tickMarks"},"mark":{"type":"rule","color":"#888","strokeWidth":1},"encoding":{"x2":{"field":"t2"},"y2":{"field":"v2"}}},
{"data":{"name":"ticks"},"mark":{"type":"text","font":"Liberation Sans","fontSize":11.5,"color":"#777","align":"center","baseline":"middle"},"encoding":{"text":{"field":"label"}}},
{"data":{"name":"erpL"},"transform":[{"filter":"datum.s==='N'"}],"mark":{"type":"line","color":"#111","strokeWidth":3.6,"strokeDash":[8,7],"interpolate":"cardinal"}},
{"data":{"name":"erpL"},"transform":[{"filter":"datum.s==='P'"}],"mark":{"type":"line","color":"#111","strokeWidth":4.2,"interpolate":"cardinal"}}
]},
{"encoding":{"x":{"field":"t","type":"quantitative","axis":null,"scale":{"domain":[-200,1000],"range":[1036.5,1765.5],"nice":false}},"y":{"field":"v","type":"quantitative","axis":null,"scale":{"domain":[-1,4],"range":[95.3,298.8],"nice":false}}},
"layer":[
{"data":{"values":[{"t":-197,"v":0,"t2":997,"v2":0},{"t":0,"v":-1,"t2":0,"v2":4}]},"mark":{"type":"rule","color":"#555","strokeWidth":1.6},"encoding":{"x2":{"field":"t2"},"y2":{"field":"v2"}}},
{"data":{"name":"tickMarks"},"mark":{"type":"rule","color":"#888","strokeWidth":1},"encoding":{"x2":{"field":"t2"},"y2":{"field":"v2"}}},
{"data":{"name":"ticks"},"mark":{"type":"text","font":"Liberation Sans","fontSize":11.5,"color":"#777","align":"center","baseline":"middle"},"encoding":{"text":{"field":"label"}}},
{"data":{"name":"erpR"},"transform":[{"filter":"datum.s==='N'"}],"mark":{"type":"line","color":"#e2141e","strokeWidth":3.6,"strokeDash":[8,7],"interpolate":"cardinal"}},
{"data":{"name":"erpR"},"transform":[{"filter":"datum.s==='P'"}],"mark":{"type":"line","color":"#e2141e","strokeWidth":4.2,"interpolate":"cardinal"}}
]},
{"encoding":{"x":{"field":"x","type":"quantitative","axis":null,"scale":{"domain":[0,1380],"range":[490,950],"nice":false}},"y":{"field":"y","type":"quantitative","axis":null,"scale":{"domain":[0,1272],"range":[330,754],"nice":false}}},
"layer":[
{"data":{"name":"contL"},"mark":{"type":"line","filled":true,"stroke":"#333","strokeWidth":0.9,"interpolate":"cardinal-closed"},"encoding":{"order":{"value":null},"detail":{"field":"id"},"color":{"field":"v","type":"quantitative","scale":{"type":"linear","interpolate":"rgb","domain":[-2.63,-2.025,-0.675,-0.35,0,0.33,0.675,2.025,2.63],"range":["#00007f","#0000f0","#00f0ff","#18eec8","#50ee80","#a4f038","#ffff00","#ff0000","#7f0000"]},"legend":{"orient":"none","legendX":513,"legendY":353,"direction":"vertical","gradientLength":318,"gradientThickness":7,"gradientStrokeWidth":0,"values":[-2,-1,0,1,2],"title":null,"labelFont":"Liberation Sans","labelFontSize":17,"labelColor":"#333","labelOffset":5,"labelExpr":"replace(datum.label,'-','−')"}}}},
{"data":{"values":[{"x":875,"y":572}]},"mark":{"type":"point","shape":"circle","filled":false,"stroke":"white","strokeWidth":40,"size":131044,"opacity":1}},
{"data":{"name":"elecL"},"mark":{"type":"circle","size":8,"color":"#1a1a1a","opacity":1}},
{"data":{"values":[{"x":880,"y":570}]},"mark":{"type":"point","shape":"circle","filled":false,"stroke":"#111","strokeWidth":3.4,"size":92052,"opacity":1}},
{"data":{"name":"outL"},"mark":{"type":"line","color":"#111","strokeWidth":3,"interpolate":"cardinal","tension":0.6},"encoding":{"order":{"value":null},"detail":{"field":"id"}}},
{"data":{"values":[{"x":1010,"x2":1118,"y":643,"y2":750}]},"mark":{"type":"rect","filled":false,"stroke":"#222","strokeWidth":3.2,"cornerRadius":7},"encoding":{"x2":{"field":"x2"},"y2":{"field":"y2"}}}
]},
{"encoding":{"x":{"field":"x","type":"quantitative","axis":null,"scale":{"domain":[0,1440],"range":[1050,1530],"nice":false}},"y":{"field":"y","type":"quantitative","axis":null,"scale":{"domain":[0,1272],"range":[330,754],"nice":false}}},
"layer":[
{"data":{"name":"contR"},"mark":{"type":"line","filled":true,"stroke":"#333","strokeWidth":0.9,"interpolate":"cardinal-closed"},"encoding":{"order":{"value":null},"detail":{"field":"id"},"color":{"field":"v","type":"quantitative","scale":{"type":"linear","interpolate":"rgb","domain":[-2.63,-2.025,-0.675,-0.35,0,0.33,0.675,2.025,2.63],"range":["#00007f","#0000f0","#00f0ff","#18eec8","#50ee80","#a4f038","#ffff00","#ff0000","#7f0000"]},"legend":{"orient":"none","legendX":1078,"legendY":354,"direction":"vertical","gradientLength":320,"gradientThickness":7,"gradientStrokeWidth":0,"values":[-2,-1,0,1,2],"title":null,"labelFont":"Liberation Sans","labelFontSize":17,"labelColor":"#333","labelOffset":5,"labelExpr":"replace(datum.label,'-','−')"}}}},
{"data":{"values":[{"x":890,"y":581}]},"mark":{"type":"point","shape":"circle","filled":false,"stroke":"white","strokeWidth":40,"size":129600,"opacity":1}},
{"data":{"name":"elecR"},"mark":{"type":"circle","size":8,"color":"#1a1a1a","opacity":1}},
{"data":{"values":[{"x":889,"y":576}]},"mark":{"type":"point","shape":"circle","filled":false,"stroke":"#111","strokeWidth":3.4,"size":91000,"opacity":1}},
{"data":{"name":"outR"},"mark":{"type":"line","color":"#111","strokeWidth":3,"interpolate":"cardinal","tension":0.6},"encoding":{"order":{"value":null},"detail":{"field":"id"}}},
{"data":{"values":[{"x":1028,"x2":1135,"y":650,"y2":758}]},"mark":{"type":"rect","filled":false,"stroke":"#222","strokeWidth":3.2,"cornerRadius":7},"encoding":{"x2":{"field":"x2"},"y2":{"field":"y2"}}}
]},
{"encoding":{"x":{"field":"x","type":"quantitative","axis":null,"scale":{"domain":[0,1990],"range":[0,1990],"nice":false}},"y":{"field":"y","type":"quantitative","axis":null,"scale":{"domain":[0,754],"range":[0,754],"nice":false}},"text":{"field":"label"}},
"layer":[
{"data":{"values":[{"x":622,"y":42,"label":"Congruent article"}]},"mark":{"type":"text","font":"Open Sans","fontWeight":"bold","fontSize":39.5,"color":"#000","align":"center","baseline":"alphabetic"}},
{"data":{"values":[{"x":1404,"y":42,"label":"Incongruent article"}]},"mark":{"type":"text","font":"Open Sans","fontWeight":"bold","fontSize":39.5,"color":"#c00000","align":"center","baseline":"alphabetic"}},
{"data":{"values":[{"x":624,"y":100,"label":"“birthday” context"},{"x":1407,"y":100,"label":"“movie” context"}]},"mark":{"type":"text","font":"Open Sans","fontStyle":"italic","fontSize":45,"color":"#7f7f7f","align":"center","baseline":"alphabetic"}},
{"data":{"values":[{"x":416,"y":395,"label":"Predictive Adj"},{"x":416,"y":510,"label":"Neutral Adj"}]},"mark":{"type":"text","font":"Open Sans","fontWeight":"bold","fontSize":40,"color":"#000","align":"right","baseline":"alphabetic"}},
{"data":{"values":[{"x":416,"y":453,"label":"(welcomed)"},{"x":416,"y":567,"label":"(nice)"}]},"mark":{"type":"text","font":"Open Sans","fontStyle":"italic","fontSize":45.5,"color":"#7f7f7f","align":"right","baseline":"alphabetic"}},
{"data":{"values":[{"x":1588,"y":398,"label":"Predictive Adj"},{"x":1588,"y":513,"label":"Neutral Adj"}]},"mark":{"type":"text","font":"Open Sans","fontWeight":"bold","fontSize":40,"color":"#c00000","align":"left","baseline":"alphabetic"}},
{"data":{"values":[{"x":1588,"y":455,"label":"(welcomed)"},{"x":1588,"y":570,"label":"(nice)"}]},"mark":{"type":"text","font":"Open Sans","fontStyle":"italic","fontSize":45.5,"color":"#7f7f7f","align":"left","baseline":"alphabetic"}},
{"data":{"values":[{"x":778,"y":723,"label":"Predictable – Neutral"},{"x":778,"y":747,"label":"250-500 msec"},{"x":1342,"y":725,"label":"Predictable – Neutral"},{"x":1342,"y":748,"label":"250-500 msec"}]},"mark":{"type":"text","font":"Liberation Sans","fontSize":17.5,"color":"#444","align":"center","baseline":"alphabetic"}},
{"data":{"values":[{"x":180,"y":117,"label":"CP4"},{"x":998,"y":118,"label":"CP4"}]},"mark":{"type":"text","font":"Liberation Sans","fontSize":14,"color":"#444","align":"left","baseline":"middle"}},
{"data":{"values":[{"x":15,"x2":122,"y":378}]},"mark":{"type":"rule","color":"#000","strokeWidth":9},"encoding":{"x2":{"field":"x2"},"text":null}},
{"data":{"values":[{"x":15,"x2":122,"y":496}]},"mark":{"type":"rule","color":"#000","strokeWidth":9,"strokeDash":[10,6]},"encoding":{"x2":{"field":"x2"},"text":null}},
{"data":{"values":[{"x":1881,"x2":1988,"y":381}]},"mark":{"type":"rule","color":"#c00000","strokeWidth":9},"encoding":{"x2":{"field":"x2"},"text":null}},
{"data":{"values":[{"x":1881,"x2":1988,"y":498}]},"mark":{"type":"rule","color":"#c00000","strokeWidth":9,"strokeDash":[10,6]},"encoding":{"x2":{"field":"x2"},"text":null}}
]}
],
"resolve":{"scale":{"x":"independent","y":"independent","color":"independent"}}
}
